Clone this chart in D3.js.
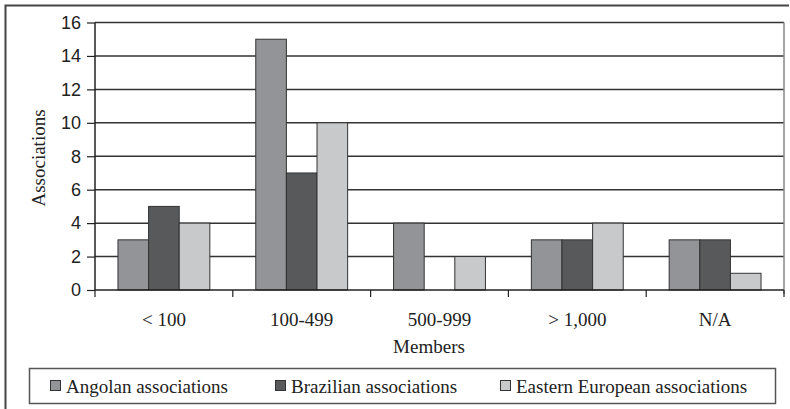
<!DOCTYPE html>
<html><head><meta charset="utf-8">
<script src="https://cdn.jsdelivr.net/npm/d3@7"></script>
<style>
body{margin:0;background:#fff}svg{display:block}
.sans{font-family:"Liberation Sans",Arial,sans-serif}
.serif{font-family:"Liberation Serif","Times New Roman","DejaVu Serif",serif}
</style>
</head><body>
<svg id="c" width="790" height="409"></svg>
<script>
const categories = ["< 100", "100-499", "500-999", "> 1,000", "N/A"];
const seriesNames = ["Angolan associations", "Brazilian associations", "Eastern European associations"];
const angolan = [3, 15, 4, 3, 3];
const brazilian = [5, 7, 0, 3, 3];
const easternEuropean = [4, 10, 2, 4, 1];
const yTicks = [0, 2, 4, 6, 8, 10, 12, 14, 16];
const colors = ["#939497", "#58595b", "#c8c9cb"];
const series = [angolan, brazilian, easternEuropean];

const svg = d3.select("#c");
const m = {left: 95, right: 784, top: 22.5, bottom: 290};
const x = d3.scaleBand().domain(categories).range([m.left, m.right]).paddingInner(0).paddingOuter(0);
const xs = d3.scaleBand().domain(d3.range(3)).range([0, x.bandwidth()]).paddingOuter(0.75).paddingInner(0);
const y = d3.scaleLinear().domain([0, 16]).range([m.bottom, m.top]);

// outer frame (top & left)
svg.append("path").attr("d", "M5.5,409 V5.5 H789").attr("fill", "none").attr("stroke", "#444").attr("stroke-width", 2);

// gridlines
svg.append("g").selectAll("line").data(yTicks.filter(d => d > 0)).join("line")
  .attr("x1", m.left).attr("x2", m.right).attr("y1", d => y(d)).attr("y2", d => y(d))
  .attr("stroke", "#333").attr("stroke-width", 1.5);
// right border
svg.append("line").attr("x1", m.right).attr("x2", m.right).attr("y1", m.top).attr("y2", m.bottom + 4)
  .attr("stroke", "#888").attr("stroke-width", 1.5);

// bars
const g = svg.append("g");
series.forEach((vals, si) => {
  g.selectAll(null).data(vals.map((v, i) => ({v, c: categories[i]})).filter(d => d.v > 0)).join("rect")
    .attr("x", d => x(d.c) + xs(si)).attr("width", xs.bandwidth())
    .attr("y", d => y(d.v)).attr("height", d => y(0) - y(d.v))
    .attr("fill", colors[si]).attr("stroke", "#333").attr("stroke-width", 1);
});

// y axis
const ya = svg.append("g").attr("transform", `translate(${m.left},0)`)
  .call(d3.axisLeft(y).tickValues(yTicks).tickSize(8).tickPadding(6).tickFormat(d3.format("d")));
ya.attr("font-family", null).attr("font-size", null);
ya.select(".domain").attr("stroke", "#222").attr("stroke-width", 1.5).attr("d", `M0,${m.top}V${m.bottom}`);
ya.selectAll(".tick line").attr("stroke", "#222").attr("stroke-width", 1.2);
ya.selectAll("text").attr("class", "sans").style("font-size", "18px").attr("fill", "#222");

// x axis
const xa = svg.append("g").attr("transform", `translate(0,${m.bottom})`)
  .call(d3.axisBottom(x).tickSize(0).tickPadding(0));
xa.attr("font-family", null).attr("font-size", null);
xa.select(".domain").remove();
xa.selectAll("text").attr("class", "serif").attr("dy", null).attr("y", 36)
  .style("font-size", "19px").attr("fill", "#222");
svg.append("g").selectAll("line").data(categories.concat(["end"])).join("line")
  .attr("x1", (d, i) => m.left + i * x.step()).attr("x2", (d, i) => m.left + i * x.step())
  .attr("y1", m.bottom).attr("y2", m.bottom + 7).attr("stroke", "#222").attr("stroke-width", 1.2);
svg.append("line").attr("x1", m.left).attr("x2", m.right).attr("y1", m.bottom).attr("y2", m.bottom)
  .attr("stroke", "#222").attr("stroke-width", 1.5);

// axis titles
svg.append("text").attr("class", "serif").attr("x", 429).attr("y", 353).attr("text-anchor", "middle")
  .style("font-size", "19px").attr("fill", "#222").text("Members");
svg.append("text").attr("class", "serif").attr("transform", "translate(45,158) rotate(-90)").attr("text-anchor", "middle")
  .style("font-size", "19px").attr("fill", "#222").text("Associations");

// legend
svg.append("rect").attr("x", 29.5).attr("y", 368.5).attr("width", 746).attr("height", 35)
  .attr("fill", "#fff").attr("stroke", "#555").attr("stroke-width", 1.5);
const lx = [50, 275, 500];
const lg = svg.append("g").selectAll("g").data(seriesNames).join("g")
  .attr("transform", (d, i) => `translate(${lx[i]},386)`);
lg.append("rect").attr("x", 0.5).attr("y", -5.5).attr("width", 10).attr("height", 10)
  .attr("fill", (d, i) => colors[i]).attr("stroke", "#333").attr("stroke-width", 1);
lg.append("text").attr("class", "serif").attr("x", 16).attr("y", 6.5)
  .style("font-size", "19px").attr("fill", "#222").text(d => d);
</script>
</body></html>
